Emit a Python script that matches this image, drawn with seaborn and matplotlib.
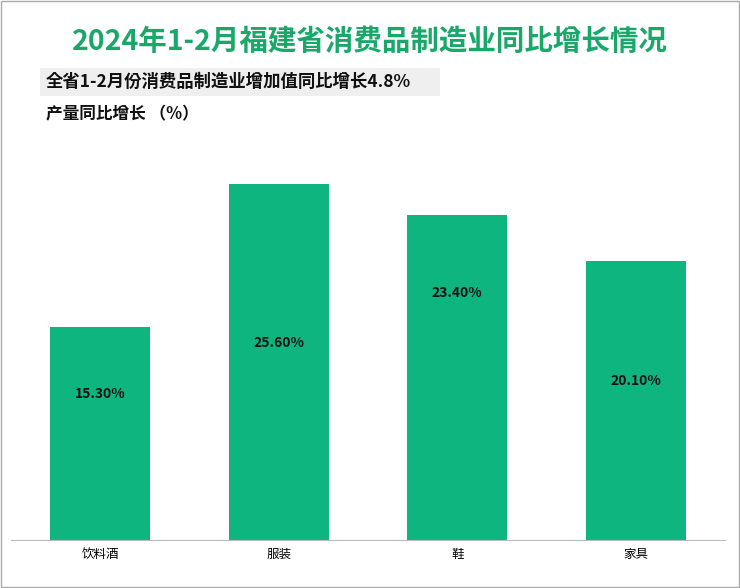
import matplotlib
matplotlib.use("Agg")
import matplotlib.pyplot as plt
import seaborn as sns
import pandas as pd
from matplotlib.patches import Rectangle
from matplotlib import font_manager

names = {f.name for f in font_manager.fontManager.ttflist}
cjk = [n for n in ["Noto Sans CJK SC", "Noto Sans CJK JP", "Noto Sans CJK TC", "Noto Sans CJK KR"] if n in names]
plt.rcParams["font.family"] = "sans-serif"
plt.rcParams["font.sans-serif"] = cjk + ["DejaVu Sans"]

categories = ["饮料酒", "服装", "鞋", "家具"]
growth = [15.3, 25.6, 23.4, 20.1]
labels = ["15.30%", "25.60%", "23.40%", "20.10%"]
label_frac = [0.685, 0.553, 0.758, 0.57]

df = pd.DataFrame({"cat": categories, "val": growth})

W, H = 740, 588
fig = plt.figure(figsize=(W / 100, H / 100), dpi=100)
ax = fig.add_axes([11 / W, 1 - 540 / H, 714 / W, 417 / H])
sns.barplot(data=df, x="cat", y="val", color="#0fb57f", saturation=1, width=0.56, ax=ax)
ax.set_ylim(0, 30)
ax.set_xlim(-0.5, 3.5)
for i, (v, t, f) in enumerate(zip(growth, labels, label_frac)):
    ax.text(i, v * f, t, ha="center", va="center", fontsize=10, fontweight="bold", color="#111111")
ax.set_yticks([])
ax.set_xlabel("")
ax.set_ylabel("")
for s in ["top", "right", "left"]:
    ax.spines[s].set_visible(False)
ax.spines["bottom"].set_color("#bbbbbb")
ax.tick_params(axis="x", length=0, labelsize=9, pad=6)

fig.text(0.5, 1 - 42 / H, "2024年1-2月福建省消费品制造业同比增长情况", ha="center", va="center",
         fontsize=20.5, fontweight="bold", color="#1aa86a")
fig.patches.append(Rectangle((40 / W, 1 - 96 / H), 400 / W, 28 / H, transform=fig.transFigure,
                             facecolor="#efefef", edgecolor="none"))
fig.text(46 / W, 1 - 82 / H, "全省1-2月份消费品制造业增加值同比增长4.8%", ha="left", va="center",
         fontsize=12.5, fontweight="bold", color="#111111")
fig.text(46 / W, 1 - 114 / H, "产量同比增长 （%）", ha="left", va="center",
         fontsize=12, fontweight="bold", color="#111111")
fig.patches.append(Rectangle((1 / W, 1 / H), (W - 2) / W, (H - 2) / H, transform=fig.transFigure,
                             facecolor="none", edgecolor="#aaaaaa", linewidth=1))
fig.savefig("out.png", dpi=100)
